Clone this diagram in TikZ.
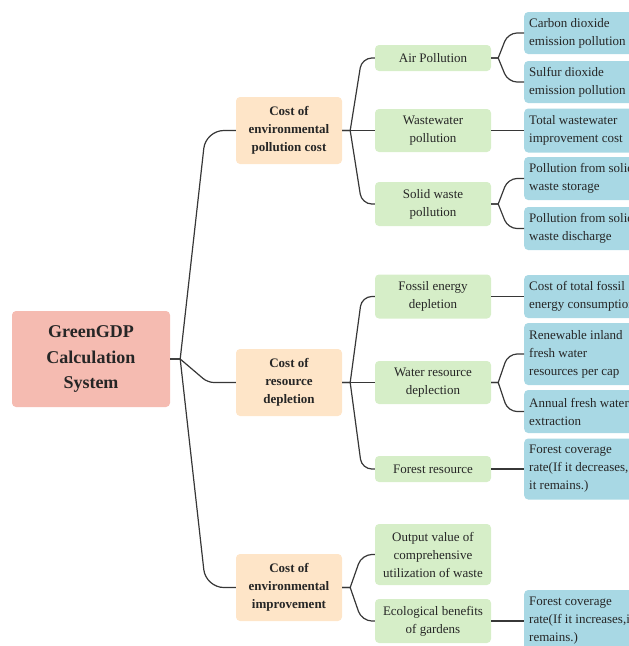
\documentclass[tikz,border=0pt]{standalone}
\usepackage{fontspec}
\setmainfont{Liberation Serif}
\definecolor{rootc}{RGB}{245,187,177}
\definecolor{midc}{RGB}{254,229,200}
\definecolor{greenc}{RGB}{214,238,200}
\definecolor{bluec}{RGB}{168,216,228}
\definecolor{linec}{RGB}{55,55,55}
\begin{document}
\begin{tikzpicture}[x=1pt,y=-1pt,
  box/.style={rounded corners=4pt, inner sep=0pt, align=flush center, text=black!85, font=\fontsize{13}{18}\selectfont},
  rootbox/.style={box, fill=rootc, minimum width=158pt, minimum height=96pt, font=\fontsize{18}{25.5}\selectfont\bfseries},
  midbox/.style={box, fill=midc, minimum width=106pt, minimum height=67pt, font=\fontsize{13}{18}\selectfont\bfseries},
  leafbox/.style={box, fill=greenc, minimum width=116pt},
  bluebox/.style={box, fill=bluec, anchor=west, text width=130pt, align=flush left, inner xsep=5pt},
  conn/.style={draw=linec, line width=1.2pt}]
\useasboundingbox (0,0) rectangle (629,646);
\clip (0,0) rectangle (629,646);
% root
\node[rootbox] (root) at (91,359) {GreenGDP\\Calculation\\System};
% mid
\node[midbox] (m1) at (289,130.5) {Cost of\\environmental\\pollution cost};
\node[midbox] (m2) at (289,382.5) {Cost of\\resource\\depletion};
\node[midbox] (m3) at (289,587.5) {Cost of\\environmental\\improvement};
% green
\node[leafbox, minimum height=26pt] (g1) at (433,58) {Air Pollution};
\node[leafbox, minimum height=43pt] (g2) at (433,130.5) {Wastewater\\pollution};
\node[leafbox, minimum height=44pt] (g3) at (433,204) {Solid waste\\pollution};
\node[leafbox, minimum height=44pt] (g4) at (433,296.5) {Fossil energy\\depletion};
\node[leafbox, minimum height=43pt] (g5) at (433,382.5) {Water resource\\deplection};
\node[leafbox, minimum height=26pt] (g6) at (433,469) {Forest resource};
\node[leafbox, minimum height=61pt] (g7) at (433,554.5) {Output value of\\comprehensive\\utilization of waste};
\node[leafbox, minimum height=44pt] (g8) at (433,621) {Ecological benefits\\of gardens};
% blue
\node[bluebox, minimum height=42pt] (b1) at (524,33) {Carbon dioxide\\emission pollution};
\node[bluebox, minimum height=42pt] (b2) at (524,82) {Sulfur dioxide\\emission pollution};
\node[bluebox, minimum height=44pt] (b3) at (524,130.5) {Total wastewater\\improvement cost};
\node[bluebox, minimum height=43pt] (b4) at (524,178.5) {Pollution from solid\\waste storage};
\node[bluebox, minimum height=43pt] (b5) at (524,228.5) {Pollution from solid\\waste discharge};
\node[bluebox, minimum height=43pt] (b6) at (524,296.5) {Cost of total fossil\\energy consumption};
\node[bluebox, minimum height=62pt] (b7) at (524,354) {Renewable inland\\fresh water\\resources per cap};
\node[bluebox, minimum height=43pt] (b8) at (524,411.5) {Annual fresh water\\extraction};
\node[bluebox, minimum height=61pt] (b9) at (524,469) {Forest coverage\\rate(If it decreases,\\it remains.)};
\node[bluebox, minimum height=62pt] (b10) at (524,621) {Forest coverage\\rate(If it increases,it\\remains.)};
% root -> mid
\draw[conn] (root.east) -- ++(10,0) [rounded corners=18pt] -- ([xshift=-30pt]m1.west) -- (m1.west);
\draw[conn] (root.east) -- ++(10,0) [rounded corners=6pt] -- ([xshift=-28pt]m2.west) -- (m2.west);
\draw[conn] (root.east) -- ++(10,0) [rounded corners=18pt] -- ([xshift=-30pt]m3.west) -- (m3.west);
% mid -> green
\draw[conn] (m1.east) -- ++(8,0) [rounded corners=10pt] -- ([xshift=-13pt]g1.west) -- (g1.west);
\draw[conn] (m1.east) -- (g2.west);
\draw[conn] (m1.east) -- ++(8,0) [rounded corners=10pt] -- ([xshift=-13pt]g3.west) -- (g3.west);
\draw[conn] (m2.east) -- ++(8,0) [rounded corners=10pt] -- ([xshift=-13pt]g4.west) -- (g4.west);
\draw[conn] (m2.east) -- (g5.west);
\draw[conn] (m2.east) -- ++(8,0) [rounded corners=10pt] -- ([xshift=-13pt]g6.west) -- (g6.west);
\draw[conn] (m3.east) -- ++(8,0) [rounded corners=10pt] -- ([xshift=-13pt]g7.west) -- (g7.west);
\draw[conn] (m3.east) -- ++(8,0) [rounded corners=10pt] -- ([xshift=-13pt]g8.west) -- (g8.west);
% green -> blue
\draw[conn] (g1.east) -- ++(7,0) [rounded corners=9pt] -- ([xshift=-16pt]b1.west) -- (b1.west);
\draw[conn] (g1.east) -- ++(7,0) [rounded corners=9pt] -- ([xshift=-16pt]b2.west) -- (b2.west);
\draw[conn] (g2.east) -- (b3.west);
\draw[conn] (g3.east) -- ++(7,0) [rounded corners=9pt] -- ([xshift=-16pt]b4.west) -- (b4.west);
\draw[conn] (g3.east) -- ++(7,0) [rounded corners=9pt] -- ([xshift=-16pt]b5.west) -- (b5.west);
\draw[conn] (g4.east) -- (b6.west);
\draw[conn] (g5.east) -- ++(7,0) [rounded corners=9pt] -- ([xshift=-16pt]b7.west) -- (b7.west);
\draw[conn] (g5.east) -- ++(7,0) [rounded corners=9pt] -- ([xshift=-16pt]b8.west) -- (b8.west);
\draw[conn] (g6.east) -- (b9.west);
\draw[conn] (g8.east) -- (b10.west);
\end{tikzpicture}
\end{document}
